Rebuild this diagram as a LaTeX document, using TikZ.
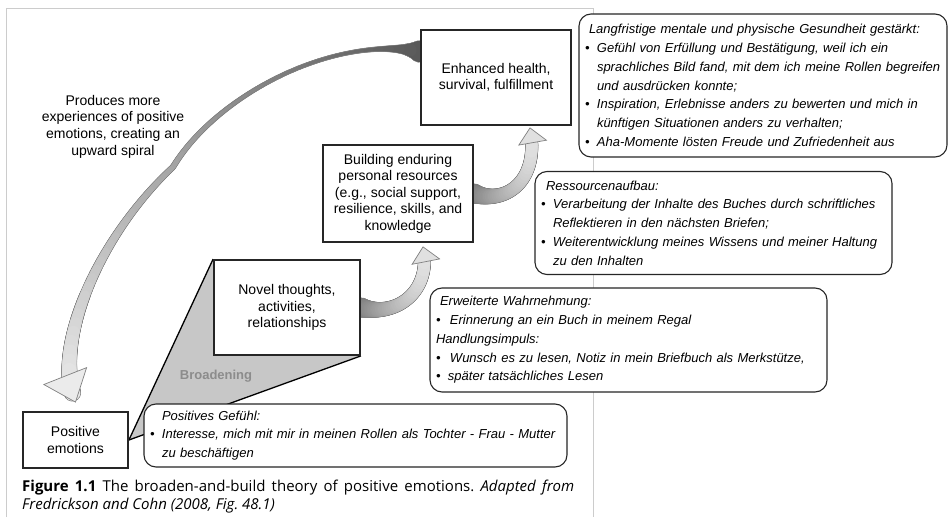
\documentclass[tikz,border=0pt]{standalone}
\usepackage{fontspec}
\setmainfont{Liberation Sans}
\newfontfamily\capfont{Open Sans}
\usetikzlibrary{decorations.markings, backgrounds}
\newcommand{\bpt}[1]{\mbox{\makebox[12pt][l]{\textbullet}#1}}
\newcommand{\bcont}[1]{\mbox{\hspace*{12pt}#1}}
\tikzset{
  rib width/.store in=\ribw,
  rib shade/.store in=\ribs,
  rib tip/.store in=\ribt,
  ribbon/.style={
    postaction={decorate, decoration={markings,
      mark=between positions 0 and -15pt step 0.6pt with {%
        \pgfmathsetmacro{\rdist}{\pgfkeysvalueof{/pgf/decoration/mark info/distance from start}}%
        \pgfmathsetmacro{\rfrac}{\rdist/\pgfdecoratedpathlength}%
        \pgfmathsetmacro{\rrad}{\ribw+0.7}%
        \fill[black!50] (0pt,0pt) circle (\rrad pt);}}},
    postaction={decorate, decoration={markings,
      mark=between positions 0 and -15pt step 0.6pt with {%
        \pgfmathsetmacro{\rdist}{\pgfkeysvalueof{/pgf/decoration/mark info/distance from start}}%
        \pgfmathsetmacro{\rfrac}{\rdist/\pgfdecoratedpathlength}%
        \pgfmathsetmacro{\rrad}{\ribw}%
        \pgfmathtruncatemacro{\rtone}{\ribs}%
        \fill[black!\rtone] (0pt,0pt) circle (\rrad pt);}}},
    postaction={decorate, decoration={markings, mark=at position -1pt with {\ribt}}}},
  box/.style={draw=black!85, line width=1.8pt, fill=white, align=center,
    inner sep=0pt, font=\fontsize{14}{16.5}\selectfont},
  note/.style={draw=black!85, line width=1.1pt, fill=white, rounded corners=12pt,
    align=left, inner xsep=6pt, inner ysep=0pt, font=\fontsize{13}{18.8}\selectfont\itshape},
  frame/.style={draw=black!20, line width=1pt},
}
\begin{document}
\begin{tikzpicture}[x=1pt, y=1pt]
  \useasboundingbox (0,0) rectangle (949,517);
  % model boxes
  \node[box, minimum width=150pt, minimum height=95pt] (enh) at (496,439.5) {Enhanced health,\\survival, fulfillment};
  \node[box, minimum width=150pt, minimum height=97pt] (bld) at (398,323.5) {Building enduring\\personal resources\\(e.g., social support,\\resilience, skills, and\\knowledge};
  \node[box, minimum width=146pt, minimum height=95pt] (nov) at (287,209.5) {Novel thoughts,\\activities,\\relationships};
  \node[box, minimum width=105pt, minimum height=56pt] (pos) at (75.5,77) {Positive\\emotions};
  \node[font=\fontsize{14}{16.7}\selectfont, align=center] (spiral) at (113,390.5) {Produces more\\experiences of positive\\emotions, creating an\\upward spiral};
  \node[font=\bfseries\fontsize{13}{15}\selectfont, text=black!45] (brd) at (216,141) {Broadening};
  \begin{scope}[on background layer]
    % scanned figure frame
    \draw[frame] (6,0) -- (6,508) -- (593,508) -- (593,0);
    % broadening wedge
    \fill[black!22] (pos.east) -- (nov.north west) -- (nov.south east) -- cycle;
    \draw[line width=1.3pt] (pos.east) -- (nov.north west);
    \draw[line width=1.3pt] (pos.east) -- (nov.south east);
    % ribbon arrows
    \path[ribbon, rib width={1.5+9*exp(-min(\rdist/15,9))+7*\rfrac^3},
      rib shade={8+58*(1-\rfrac)},
      rib tip={\filldraw[draw=black!50, fill=black!8, line width=0.7pt] (1pt,0pt) -- (-27pt,23pt) -- (-27pt,-23pt) -- cycle;}]
      ([yshift=26pt]enh.west) .. controls (330,482) and (215,420) .. (173,350)
      .. controls (98,280) and (52,172) .. ([yshift=9pt]pos.north);
    \path[ribbon, rib width={5.8+3.5*exp(-min(\rdist/16,9))},
      rib shade={12+40*(1-\rfrac)^2},
      rib tip={\filldraw[draw=black!50, fill=black!12, line width=0.7pt] (1pt,0pt) -- (-14pt,14pt) -- (-14pt,-14pt) -- cycle;}]
      (nov.east) .. controls (398,199) and (432,227) .. ([xshift=25pt,yshift=-4pt]bld.south);
    \path[ribbon, rib width={5.8+3.5*exp(-min(\rdist/16,9))},
      rib shade={12+40*(1-\rfrac)^2},
      rib tip={\filldraw[draw=black!50, fill=black!12, line width=0.7pt] (1pt,0pt) -- (-14pt,14pt) -- (-14pt,-14pt) -- cycle;}]
      (bld.east) .. controls (505,312) and (540,335) .. ([xshift=34pt,yshift=-2pt]enh.south);
  \end{scope}
  % notes
  \node[note, text width=356pt, minimum height=143pt] (lang) at (763,431.5) {%
    \mbox{\hspace*{4pt}Langfristige mentale und physische Gesundheit gestärkt:}\\
    \bpt{Gefühl von Erfüllung und Bestätigung, weil ich ein}\\
    \bcont{sprachliches Bild fand, mit dem ich meine Rollen begreifen}\\
    \bcont{und ausdrücken konnte;}\\
    \bpt{Inspiration, Erlebnisse anders zu bewerten und mich in}\\
    \bcont{künftigen Situationen anders zu verhalten;}\\
    \bpt{Aha-Momente lösten Freude und Zufriedenheit aus}};
  \node[note, text width=345pt, minimum height=103pt] (res) at (713.5,294) {%
    \mbox{\hspace*{5pt}Ressourcenaufbau:}\\
    \bpt{Verarbeitung der Inhalte des Buches durch schriftliches}\\
    \bcont{Reflektieren in den nächsten Briefen;}\\
    \bpt{Weiterentwicklung meines Wissens und meiner Haltung}\\
    \bcont{zu den Inhalten}};
  \node[note, text width=385pt, minimum height=104pt] (erw) at (628.5,177) {%
    \mbox{\hspace*{4pt}Erweiterte Wahrnehmung:}\\
    \bpt{\hspace*{2pt}Erinnerung an ein Buch in meinem Regal}\\
    \mbox{Handlungsimpuls:}\\
    \bpt{\hspace*{2pt}Wunsch es zu lesen, Notiz in mein Briefbuch als Merkstütze,}\\
    \bpt{später tatsächliches Lesen}};
  \node[note, text width=411pt, minimum height=63pt] (pg) at (355.5,81.5) {%
    \mbox{\hspace*{12pt}Positives Gefühl:}\\
    \bpt{Interesse, mich mit mir in meinen Rollen als Tochter - Frau - Mutter}\\
    \bcont{zu beschäftigen}};
  % caption
  \node[anchor=north west, inner sep=0pt, text width=552pt, align=justify,
    font=\capfont\fontsize{15}{18}\selectfont\frenchspacing] (cap) at (22,37)
    {\textbf{Figure 1.1} The broaden-and-build theory of positive emotions. \textit{Adapted from}\linebreak
     \textit{Fredrickson and Cohn (2008, Fig. 48.1)}};
\end{tikzpicture}
\end{document}
